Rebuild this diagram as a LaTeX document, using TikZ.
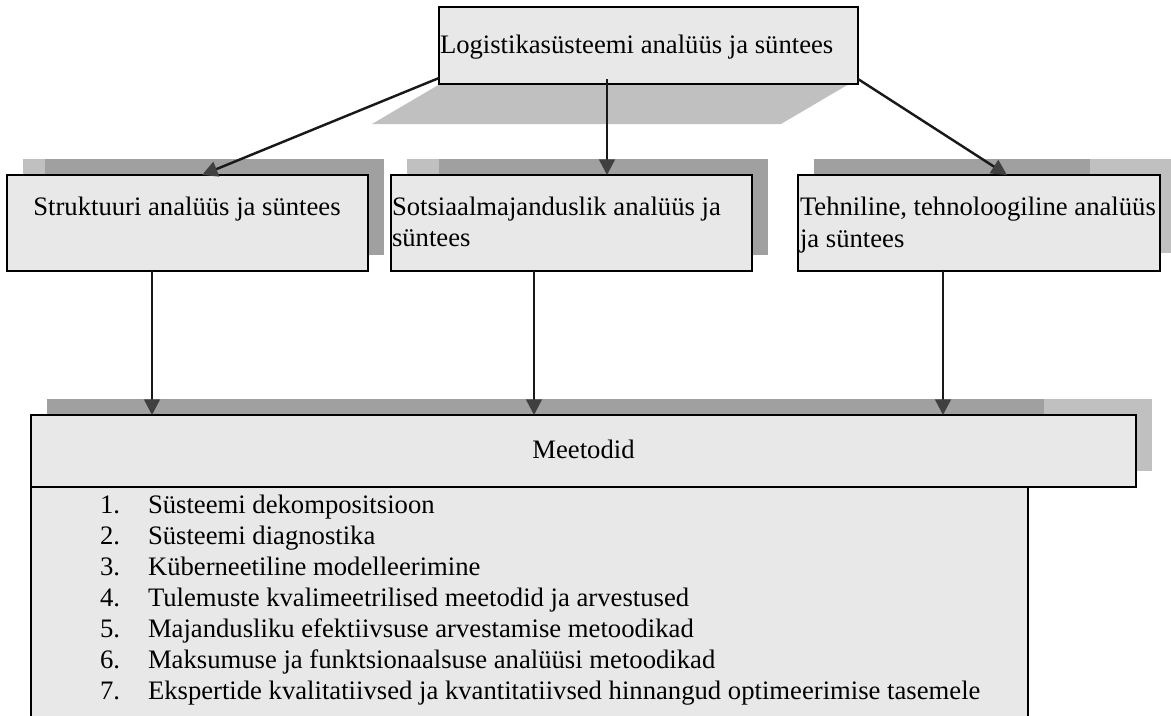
\documentclass[tikz,border=0pt]{standalone}
\usepackage{fontspec}
\setmainfont{Liberation Serif}
\usetikzlibrary{arrows.meta}
\definecolor{boxfill}{HTML}{E8E8E8}
\definecolor{shadedark}{HTML}{A0A0A0}
\definecolor{shadelight}{HTML}{C0C0C0}
\definecolor{tipgray}{HTML}{404040}
\begin{document}
\begin{tikzpicture}[x=0.45pt,y=-0.45pt,
  box/.style={draw=black,line width=1.2pt,fill=boxfill,rectangle,inner sep=0pt,outer sep=0pt},
  wpx/.style={minimum width=#1*0.45pt},
  hpx/.style={minimum height=#1*0.45pt},
  lbl/.style={inner sep=0pt,outer sep=0pt,font=\fontsize{12pt}{14pt}\selectfont},
  conn/.style={line width=1.1pt,draw=black!90,
    -{Triangle[width=7pt,length=7pt,color=tipgray]}},
  edge/.style={line width=1.2pt,draw=black}]

\clip (0,0) rectangle (1171,715);

% perspective shadow under the top box
\fill[shadelight] (372,124) -- (781,124) -- (849,84) -- (440,84) -- cycle;

% offset shadows of the middle row
\fill[shadelight] (23,159) rectangle (45,255);
\fill[shadedark]  (45,159) rectangle (384,255);
\fill[shadelight] (407,159) rectangle (439,255);
\fill[shadedark]  (439,159) rectangle (768,255);
\fill[shadedark]  (814,159) rectangle (1090,253);
\fill[shadelight] (1090,159) rectangle (1176,253);

% shadow of the methods header
\fill[shadedark]  (47,399) rectangle (1044,471);
\fill[shadelight] (1044,399) rectangle (1152,471);

% boxes
\node[box,wpx=419,hpx=77] (top) at (648.5,45.5) {};
\node[box,wpx=361,hpx=96] (s1) at (187.5,223) {};
\node[box,wpx=361,hpx=96] (s2) at (571.5,223) {};
\node[box,wpx=362,hpx=96] (s3) at (979,223) {};

% open list panel below the header
\fill[boxfill] (31,487) rectangle (1028,730);
\draw[edge] (31,487) -- (31,730);
\draw[edge] (1028,487) -- (1028,730);

\node[box,wpx=1105,hpx=72] (meth) at (583.5,451) {};

% texts
\node[lbl,anchor=base west] (ttop) at (440,53) {Logistikasüsteemi analüüs ja süntees};
\node[lbl,anchor=base] (t1) at (187,215) {Struktuuri analüüs ja süntees};
\node[lbl,anchor=base west] (t2a) at (392,215) {Sotsiaalmajanduslik analüüs ja};
\node[lbl,anchor=base west] (t2b) at (392,246) {süntees};
\node[lbl,anchor=base west] (t3a) at (800,215) {Tehniline, tehnoloogiline analüüs};
\node[lbl,anchor=base west] (t3b) at (800,247) {ja süntees};
\node[lbl,anchor=base] (tmeth) at (583.5,458) {Meetodid};

\foreach \i/\txt in {
  1/Süsteemi dekompositsioon,
  2/Süsteemi diagnostika,
  3/Küberneetiline modelleerimine,
  4/Tulemuste kvalimeetrilised meetodid ja arvestused,
  5/Majandusliku efektiivsuse arvestamise metoodikad,
  6/Maksumuse ja funktsionaalsuse analüüsi metoodikad,
  7/Ekspertide kvalitatiivsed ja kvantitatiivsed hinnangud optimeerimise tasemele}{
  \node[lbl,anchor=base west] (num\i) at (100,{513+31*(\i-1)}) {\i.};
  \node[lbl,anchor=base west] (itm\i) at (148,{513+31*(\i-1)}) {\txt};
}

% connectors
\draw[conn] (top.west |- 0,78) -- (s1.north -| 202,0);
\draw[conn,shorten <=-2.25pt] (top.south -| 607,0) -- (s2.north -| 607,0);
\draw[conn] (top.east |- 0,79) -- (s3.north -| 1007,0);

\draw[conn] (s1.south -| 152,0) -- (meth.north -| 152,0);
\draw[conn] (s2.south -| 534,0) -- (meth.north -| 534,0);
\draw[conn] (s3.south -| 943,0) -- (meth.north -| 943,0);
\end{tikzpicture}
\end{document}
